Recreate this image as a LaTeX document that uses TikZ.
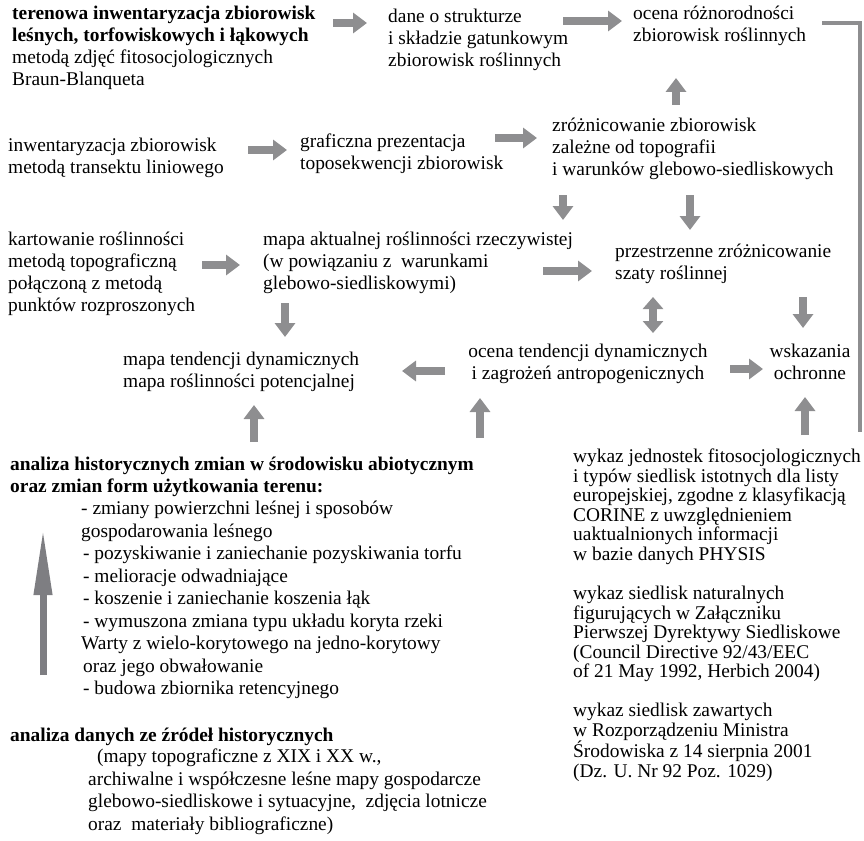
\documentclass[tikz,border=0pt]{standalone}
\usepackage{fontspec}
\setmainfont{Liberation Serif}
\usepackage{tikz}
\usetikzlibrary{arrows.meta, calc}
\definecolor{FlowGrey}{HTML}{8E8E90}
\definecolor{DarkGrey}{HTML}{7E7E82}
\tikzset{
  flowtext/.style={inner sep=0pt, anchor=north west, align=left, execute at begin node={\rule{0pt}{15pt}}, font=\fontsize{19.4}{22}\selectfont},
  boldtext/.style={flowtext, font=\fontsize{19.4}{21.5}\selectfont\bfseries},
  centertext/.style={flowtext, anchor=north, align=center},
  listtext/.style={flowtext, font=\fontsize{19.4}{22.5}\selectfont},
  tighttext/.style={flowtext, font=\fontsize{19.4}{19.5}\selectfont},
  blockarrow/.style={-{Triangle[length=14pt,width=20pt]}, line width=8pt, FlowGrey},
  doublearrow/.style={{Triangle[length=12pt,width=20pt]}-{Triangle[length=12pt,width=20pt]}, line width=8pt, FlowGrey},
  bigarrow/.style={-{Triangle[length=67pt,width=17pt]}, line width=7pt, DarkGrey},
  linkline/.style={line width=4pt, FlowGrey}
}
\begin{document}
\begin{tikzpicture}[x=1pt, y=-1pt]
  \useasboundingbox (0,0) rectangle (864,840);

  % top row
  \node[flowtext] (teren) at (12,6) {\textbf{terenowa inwentaryzacja zbiorowisk}\\\textbf{leśnych, torfowiskowych i łąkowych}\\metodą zdjęć fitosocjologicznych\\Braun-Blanqueta};
  \node[flowtext] (dane) at (388,9) {dane o strukturze\\i składzie gatunkowym\\zbiorowisk roślinnych};
  \node[flowtext] (ocenaroz) at (633,6) {ocena różnorodności\\zbiorowisk roślinnych};

  % second row
  \node[flowtext] (transekt) at (8,138) {inwentaryzacja zbiorowisk\\metodą transektu liniowego};
  \node[flowtext] (grafika) at (300,134) {graficzna prezentacja\\toposekwencji zbiorowisk};
  \node[flowtext] (zroz) at (552,118) {zróżnicowanie zbiorowisk\\zależne od topografii\\i warunków glebowo-siedliskowych};

  % third row
  \node[flowtext] (kartowanie) at (8,232) {kartowanie roślinności\\metodą topograficzną\\połączoną z metodą\\punktów rozproszonych};
  \node[flowtext] (mapaakt) at (263,232) {mapa aktualnej roślinności rzeczywistej\\(w powiązaniu z\ \ warunkami\\glebowo-siedliskowymi)};
  \node[flowtext] (przestrz) at (615,244) {przestrzenne zróżnicowanie\\szaty roślinnej};

  % fourth row
  \node[flowtext] (mapaten) at (123,352) {mapa tendencji dynamicznych\\mapa roślinności potencjalnej};
  \node[centertext] (ocenaten) at (588,344) {ocena tendencji dynamicznych\\i zagrożeń antropogenicznych};
  \node[centertext] (wskaz) at (810,344) {wskazania\\ochronne};

  % bottom left
  \node[boldtext] (abiot) at (10,457) {analiza historycznych zmian w środowisku abiotycznym\\oraz zmian form użytkowania terenu:};
  \node[listtext] (abiotlist) at (81,501) {- zmiany powierzchni leśnej i sposobów\\gospodarowania leśnego\\\hspace*{2pt}- pozyskiwanie i zaniechanie pozyskiwania torfu\\\hspace*{2pt}- melioracje odwadniające\\\hspace*{2pt}- koszenie i zaniechanie koszenia łąk\\\hspace*{2pt}- wymuszona zmiana typu układu koryta rzeki\\Warty z wielo-korytowego na jedno-korytowy\\\hspace*{2pt}oraz jego obwałowanie\\\hspace*{2pt}- budowa zbiornika retencyjnego};
  \node[boldtext] (zrodla) at (10,726) {analiza danych ze źródeł historycznych};
  \node[listtext] (zrodlalist) at (88,749) {\hspace*{9pt}(mapy topograficzne z XIX i XX w.,\\archiwalne i współczesne leśne mapy gospodarcze\\glebowo-siedliskowe i sytuacyjne,\ \ zdjęcia lotnicze\\oraz\ \ materiały bibliograficzne)};

  % bottom right
  \node[tighttext] (wykaz1) at (573,449) {wykaz jednostek fitosocjologicznych\\i typów siedlisk istotnych dla listy\\europejskiej, zgodne z klasyfikacją\\CORINE z uwzględnieniem\\uaktualnionych informacji\\w bazie danych PHYSIS};
  \node[tighttext] (wykaz2) at (573,586) {wykaz siedlisk naturalnych\\figurujących w Załączniku\\Pierwszej Dyrektywy Siedliskowe\\(Council Directive 92/43/EEC\\of 21 May 1992, Herbich 2004)};
  \node[tighttext] (wykaz3) at (573,703) {wykaz siedlisk zawartych\\w Rozporządzeniu Ministra\\Środowiska z 14 sierpnia 2001\\(Dz. U. Nr 92 Poz. 1029)};

  % free ends
  \coordinate (bigtail) at (43,675);
  \coordinate (bigtip) at (43,528);
  \coordinate (linkend) at (860,432);

  % connectors
  \draw[blockarrow] ($(teren.north west)+(321,17)$) -- ($(dane.north west)+(-21,14)$);
  \draw[blockarrow] ($(dane.north west)+(175,12)$) -- ($(ocenaroz.north west)+(-11,15)$);
  \draw[blockarrow] ($(zroz.north west)+(124,-13)$) -- ($(ocenaroz.north west)+(43,72)$);
  \draw[blockarrow] ($(transekt.north west)+(240,12)$) -- ($(grafika.north west)+(-13,16)$);
  \draw[blockarrow] ($(grafika.north west)+(195,4)$) -- ($(zroz.north west)+(-15,20)$);
  \draw[blockarrow] ($(zroz.north west)+(11,77)$) -- ($(mapaakt.north west)+(300,-12)$);
  \draw[blockarrow] ($(zroz.north west)+(138,77)$) -- ($(przestrz.north west)+(75,-14)$);
  \draw[blockarrow] ($(kartowanie.north west)+(194,33)$) -- ($(mapaakt.north west)+(-23,33)$);
  \draw[blockarrow] ($(mapaakt.north west)+(280,39)$) -- ($(przestrz.north west)+(-23,27)$);
  \draw[blockarrow] ($(mapaakt.north west)+(22,71)$) -- ($(mapaten.north west)+(162,-15)$);
  \draw[doublearrow] ($(przestrz.north west)+(38,53)$) -- ($(ocenaten.north)+(65,-11)$);
  \draw[blockarrow] ($(przestrz.north west)+(188,53)$) -- ($(wskaz.north)+(-7,-16)$);
  \draw[blockarrow] ($(ocenaten.north)+(-143,27)$) -- ($(mapaten.north west)+(279,19)$);
  \draw[blockarrow] ($(ocenaten.north)+(142,25)$) -- ($(wskaz.north)+(-47,25)$);
  \draw[blockarrow] ($(abiot.north west)+(244,-15)$) -- ($(mapaten.north west)+(131,53)$);
  \draw[blockarrow] ($(abiot.north west)+(470,-19)$) -- ($(ocenaten.north)+(-108,54)$);
  \draw[blockarrow] ($(wykaz1.north west)+(232,-14)$) -- ($(wskaz.north)+(-5,53)$);
  \draw[linkline] ($(ocenaroz.north west)+(189,17)$) -| (linkend);
  \draw[bigarrow] (bigtail) -- (bigtip);
\end{tikzpicture}
\end{document}
